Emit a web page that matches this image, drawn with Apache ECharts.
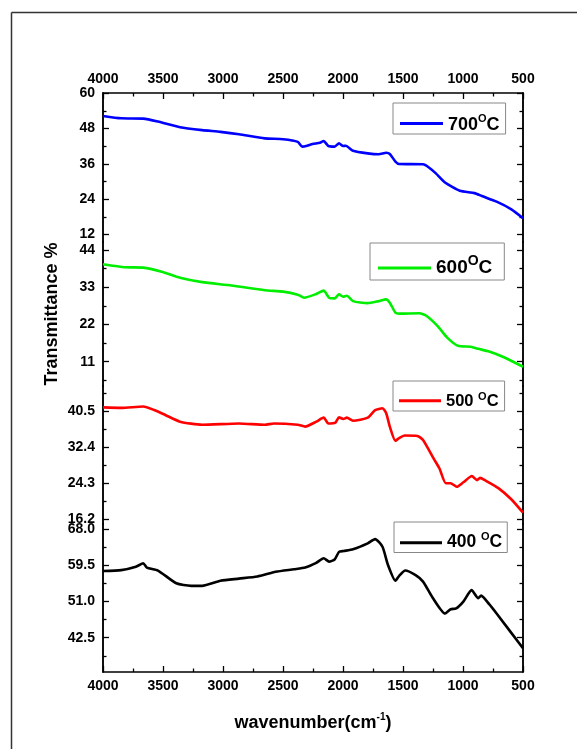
<!DOCTYPE html>
<html>
<head>
<meta charset="utf-8">
<script src="https://cdn.jsdelivr.net/npm/echarts@6/dist/echarts.min.js"></script>
<style>
  html, body { margin: 0; padding: 0; background: #fff; }
  #main { width: 577px; height: 749px; }
</style>
</head>
<body>
<div id="main"></div>
<script>
// wavenumber (cm-1) / transmittance (%)
var wn700 = [4000, 3848, 3665, 3542, 3358, 3174, 3021, 2867, 2652, 2499, 2377, 2340, 2300, 2254, 2192, 2161, 2122, 2070, 2033, 1999, 1977, 1917, 1794, 1702, 1640, 1610, 1563, 1533, 1333, 1287, 1226, 1150, 1027, 904, 843, 720, 597, 500]
var t700 = [52.3, 51.5, 51.4, 50.4, 48.5, 47.5, 46.9, 46.1, 44.7, 44.4, 43.5, 41.9, 42.2, 42.8, 43.2, 43.8, 42.1, 41.9, 43.0, 42.1, 42.2, 40.5, 39.6, 39.3, 39.8, 39.4, 36.8, 36.0, 35.9, 34.9, 32.8, 29.7, 26.9, 26.1, 25.1, 23.2, 20.6, 17.6]

var wn600 = [4000, 3818, 3665, 3511, 3358, 3174, 2929, 2652, 2499, 2377, 2324, 2223, 2161, 2116, 2070, 2033, 1999, 1968, 1917, 1794, 1702, 1640, 1610, 1563, 1533, 1364, 1303, 1211, 1134, 1042, 935, 873, 782, 659, 500]
var t600 = [39.8, 38.9, 38.8, 37.6, 35.8, 34.5, 33.5, 32.1, 31.7, 30.8, 29.9, 31.0, 32.0, 29.9, 29.7, 30.9, 30.2, 30.5, 28.9, 28.3, 28.9, 29.4, 28.4, 25.5, 25.2, 25.3, 24.5, 21.5, 18.2, 15.7, 15.4, 14.8, 14.0, 12.3, 9.5]

var wn500 = [4000, 3848, 3665, 3573, 3481, 3358, 3174, 2867, 2652, 2576, 2377, 2315, 2223, 2161, 2122, 2063, 2033, 1999, 1968, 1917, 1794, 1732, 1671, 1640, 1610, 1563, 1533, 1487, 1380, 1333, 1242, 1196, 1143, 1103, 1052, 997, 926, 883, 858, 812, 705, 598, 500]
var t500 = [41.3, 41.2, 41.5, 40.7, 39.6, 38.1, 37.4, 37.7, 37.4, 37.7, 37.4, 37.0, 38.1, 39.0, 37.7, 37.9, 39.1, 38.7, 39.0, 38.3, 39.0, 40.7, 41.1, 40.0, 37.0, 33.8, 34.4, 35.0, 34.9, 34.0, 29.7, 27.6, 24.3, 24.3, 23.5, 24.5, 25.9, 25.0, 25.5, 24.9, 23.2, 20.7, 17.7]

var wn400 = [4000, 3848, 3726, 3665, 3634, 3542, 3389, 3266, 3174, 3021, 2867, 2714, 2561, 2407, 2315, 2223, 2161, 2116, 2070, 2033, 1993, 1917, 1794, 1732, 1671, 1625, 1563, 1533, 1481, 1395, 1333, 1257, 1150, 1103, 1057, 997, 929, 873, 849, 782, 720, 500]
var t400 = [58.2, 58.4, 59.2, 60.0, 59.0, 58.3, 55.3, 54.7, 54.7, 55.9, 56.4, 56.9, 58.0, 58.6, 59.0, 60.1, 61.2, 60.4, 60.9, 62.7, 62.9, 63.3, 64.7, 65.7, 63.9, 59.6, 55.9, 57.0, 58.3, 57.2, 55.7, 52.1, 48.2, 49.2, 49.4, 51.0, 53.7, 51.8, 52.4, 50.4, 48.2, 40.0]

// y ticks per layer (major with labels, minor between)
var major700 = [12, 24, 36, 48, 60]
var minor700 = [18, 30, 42, 54]
var major600 = [11, 22, 33, 44]
var minor600 = [5.5, 16.5, 27.5, 38.5]
var major500 = [16.2, 24.3, 32.4, 40.5]
var minor500 = [20.25, 28.35, 36.45, 44.55]
var major400 = [42.5, 51.0, 59.5, 68.0]
var minor400 = [38.25, 46.75, 55.25, 63.75]

var names = ['700OC', '600OC', '500 OC', '400 OC']
var colors = ['#0000ff', '#00ee00', '#ff0000', '#000000']

var font = "'Liberation Sans', Arial, sans-serif"

function zip(xs, ys) {
  return xs.map(function (x, i) { return [x, ys[i]] })
}

var chart = echarts.init(document.getElementById('main'))

// layer frames: [top, height, min, max]
var layers = [
  [93, 149, 9.5, 60.1],
  [242, 144, 3.82, 46.36],
  [386, 138, 15.15, 46.1],
  [524, 148, 34.43, 69.25]
]
var majors = [major700, major600, major500, major400]
var minors = [minor700, minor600, minor500, minor400]
var digits = [0, 0, 1, 1]

var tickStyle = { color: '#000', width: 1.3 }
var labelStyle = { color: '#000', fontFamily: font, fontWeight: 'bold', fontSize: 14 }

var grids = []
var xAxes = []
var yAxes = []
layers.forEach(function (l, i) {
  grids.push({ left: 103, right: 54, top: l[0], height: l[1] })
  var isTop = i === 0
  var isBottom = i === 3
  xAxes.push({
    gridIndex: i,
    type: 'value',
    min: 500,
    max: 4000,
    interval: 500,
    inverse: true,
    position: isTop ? 'top' : 'bottom',
    show: isTop || isBottom,
    axisLine: { show: true, onZero: false, lineStyle: { color: '#000', width: 1.5 } },
    axisTick: { inside: true, length: 6, lineStyle: tickStyle },
    minorTick: { show: true, splitNumber: 2, length: 3.5, lineStyle: tickStyle },
    axisLabel: Object.assign({ margin: 7, formatter: function (v) { return String(v) } }, labelStyle),
    splitLine: { show: false },
    name: isBottom ? '{a|wavenumber(cm}{s|-1}{a|)}' : '',
    nameLocation: 'middle',
    nameGap: 40,
    nameTextStyle: {
      rich: {
        a: { fontFamily: font, fontWeight: 'bold', fontSize: 18, color: '#000', lineHeight: 22 },
        s: { fontFamily: font, fontWeight: 'bold', fontSize: 10, color: '#000', verticalAlign: 'top', lineHeight: 12 }
      }
    }
  })
  var base = {
    gridIndex: i,
    type: 'value',
    min: l[2],
    max: l[3],
    splitLine: { show: false },
    axisLine: { show: true, onZero: false, lineStyle: { color: '#000', width: 1.5 } }
  }
  // left: major ticks with labels
  yAxes.push(Object.assign({}, base, {
    position: 'left',
    axisTick: { inside: true, length: 6, customValues: majors[i], lineStyle: tickStyle },
    axisLabel: Object.assign({
      customValues: majors[i],
      margin: 8,
      formatter: (function (d) { return function (v) { return v.toFixed(d) } })(digits[i])
    }, labelStyle),
    name: i === 1 ? 'Transmittance %' : '',
    nameLocation: 'middle',
    nameGap: 42,
    nameTextStyle: { fontFamily: font, fontWeight: 'bold', fontSize: 18, color: '#000' }
  }))
  // right: major ticks
  yAxes.push(Object.assign({}, base, {
    position: 'right',
    axisTick: { inside: true, length: 6, customValues: majors[i], lineStyle: tickStyle },
    axisLabel: { show: false }
  }))
  // minor ticks both sides
  for (var k = 0; k < 2; k++) {
    yAxes.push(Object.assign({}, base, {
      position: k === 0 ? 'left' : 'right',
      axisTick: { inside: true, length: 3.5, customValues: minors[i], lineStyle: tickStyle },
      axisLabel: { show: false }
    }))
  }
})

var seriesData = [zip(wn700, t700), zip(wn600, t600), zip(wn500, t500), zip(wn400, t400)]

var series = seriesData.map(function (d, i) {
  return {
    name: names[i],
    type: 'line',
    xAxisIndex: i,
    yAxisIndex: i * 4,
    data: d,
    symbol: 'none',
    smooth: 0.2,
    lineStyle: { color: colors[i], width: 2.6 },
    itemStyle: { color: colors[i] }
  }
})

// legend boxes: left, top, padding, number size, "o" size, number offset, line length, line offset, label
var legendBoxes = [
  { left: 393, top: 103, pad: [7, 6, 0, 7], fs: 18, sup: 11, lift: 6, w: 43, d: 1.4, text: '{n|700}{s|O}{n|C}' },
  { left: 370, top: 243, pad: [7, 12, 3, 8], fs: 19, sup: 14, lift: 8, w: 53, d: 4.4, text: '{n|600}{s|O}{n|C}' },
  { left: 393, top: 381, pad: [9, 6, 1, 6], fs: 16.5, sup: 11, lift: 3, w: 42, d: 0.8, text: '{n|500 }{s|O}{n|C}' },
  { left: 394, top: 522, pad: [7, 5, 1, 6], fs: 17.5, sup: 11, lift: 4.5, w: 42, d: 2.5, text: '{n|400 }{s|O}{n|C}' }
]

// a 3px bar shifted d px below the icon centre (tiny mark at the top keeps the box)
function barIcon(w, d) {
  var h = 2 * d + 3
  return 'path://M0,0L0.01,0L0,0.01Z M0,' + (2 * d) + 'L' + w + ',' + (2 * d) + 'L' + w + ',' + h + 'L0,' + h + 'Z'
}

var legends = legendBoxes.map(function (b, i) {
  return {
    data: [names[i]],
    left: b.left,
    top: b.top,
    icon: barIcon(b.w, b.d),
    itemWidth: b.w,
    itemHeight: 2 * b.d + 3,
    selectedMode: false,
    padding: b.pad,
    borderColor: '#888',
    borderWidth: 1,
    backgroundColor: '#fff',
    formatter: function () { return b.text },
    textStyle: {
      rich: {
        n: { fontFamily: font, fontWeight: 'bold', fontSize: b.fs, color: '#000', lineHeight: b.fs, padding: [b.lift, 0, 0, 0] },
        s: { fontFamily: font, fontWeight: 'bold', fontSize: b.sup, color: '#000', lineHeight: b.sup, verticalAlign: 'top' }
      }
    }
  }
})

var option = {
  animation: false,
  backgroundColor: '#fff',
  grid: grids,
  xAxis: xAxes,
  yAxis: yAxes,
  legend: legends,
  series: series,
  graphic: [
    { type: 'line', shape: { x1: 11.5, y1: 12.5, x2: 577, y2: 12.5 }, style: { stroke: '#333', lineWidth: 1.5 } },
    { type: 'line', shape: { x1: 11.5, y1: 12.5, x2: 11.5, y2: 749 }, style: { stroke: '#333', lineWidth: 1.5 } }
  ]
}

chart.setOption(option)
</script>
</body>
</html>
